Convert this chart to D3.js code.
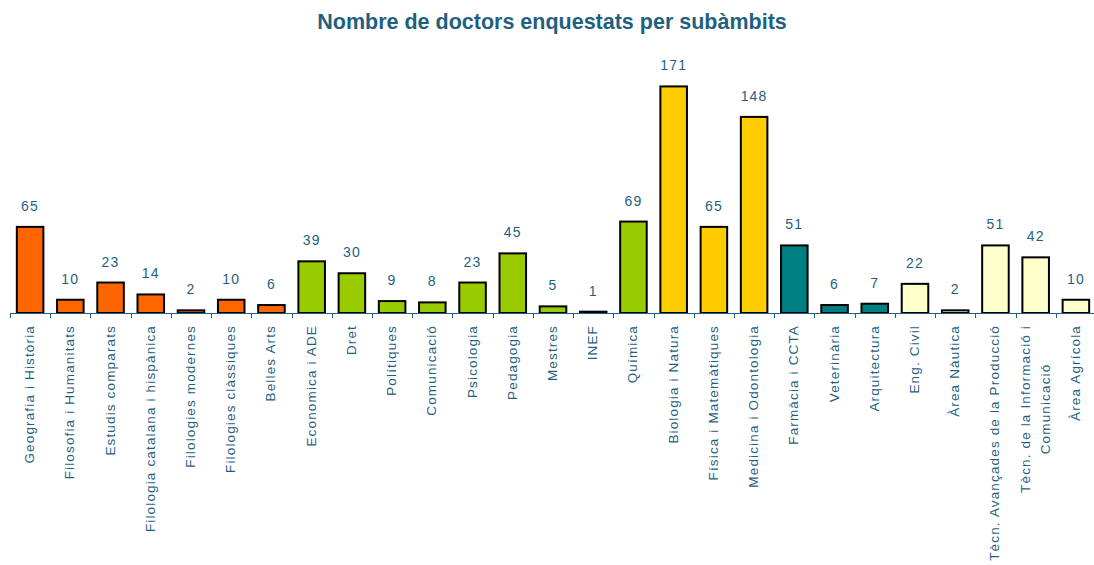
<!DOCTYPE html>
<html>
<head>
<meta charset="utf-8">
<script src="https://cdn.jsdelivr.net/npm/d3@7"></script>
<style>
  body { margin: 0; background: #fff; }
  svg { display: block; font-family: Arial, "Liberation Sans", sans-serif; }
</style>
</head>
<body>
<div id="chart"></div>
<script>
const width = 1094;
const height = 565;
const margin = { top: 48, right: -2, bottom: 252, left: 10 };

const categories = [
  "Geografia i Història", "Filosofia i Humanitats", "Estudis comparats",
  "Filologia catalana i hispànica", "Filologies modernes", "Filologies clàssiques",
  "Belles Arts", "Economica i ADE", "Dret", "Polítiques", "Comunicació",
  "Psicologia", "Pedagogia", "Mestres", "INEF", "Química", "Biologia i Natura",
  "Física i Matemàtiques", "Medicina i Odontologia", "Farmàcia i CCTA",
  "Veterinària", "Arquitectura", "Eng. Civil", "Àrea Nàutica",
  "Tècn. Avançades de la Producció", "Tècn. de la Informació i|Comunicació",
  "Àrea Agrícola"
];
const values = [65, 10, 23, 14, 2, 10, 6, 39, 30, 9, 8, 23, 45, 5, 1, 69, 171, 65, 148, 51, 6, 7, 22, 2, 51, 42, 10];
const areas = [
  "Humanitats", "Humanitats", "Humanitats", "Humanitats", "Humanitats", "Humanitats", "Humanitats",
  "Socials", "Socials", "Socials", "Socials", "Socials", "Socials", "Socials", "Socials", "Socials",
  "Ciències", "Ciències", "Ciències",
  "Salut", "Salut", "Salut",
  "Enginyeria", "Enginyeria", "Enginyeria", "Enginyeria", "Enginyeria"
];
const areaColors = {
  "Humanitats": "#FF6600",
  "Socials": "#99CC00",
  "Ciències": "#FFCC00",
  "Salut": "#008080",
  "Enginyeria": "#FFFFCC"
};

const textColor = "#1F5F80";

const svg = d3.select("#chart").append("svg")
  .attr("width", width)
  .attr("height", height);

svg.append("text")
  .attr("x", 552)
  .attr("y", 29)
  .attr("text-anchor", "middle")
  .attr("font-size", 21.5)
  .attr("font-weight", "bold")
  .attr("fill", textColor)
  .text("Nombre de doctors enquestats per subàmbits");

const x = d3.scaleBand()
  .domain(categories)
  .range([margin.left, width - margin.right])
  .paddingInner(0.34)
  .paddingOuter(0.17);

const y = d3.scaleLinear()
  .domain([0, 200])
  .range([height - margin.bottom, margin.top]);

const base = y(0);

// bars
svg.append("g")
  .selectAll("rect")
  .data(categories)
  .join("rect")
  .attr("x", (d) => x(d))
  .attr("y", (d, i) => y(values[i]))
  .attr("width", x.bandwidth())
  .attr("height", (d, i) => base - y(values[i]))
  .attr("fill", (d, i) => areaColors[areas[i]])
  .attr("stroke", "#000")
  .attr("stroke-width", 2);

// value labels
svg.append("g")
  .selectAll("text")
  .data(categories)
  .join("text")
  .attr("x", (d) => x(d) + x.bandwidth() / 2)
  .attr("y", (d, i) => y(values[i]) - 16)
  .attr("text-anchor", "middle")
  .attr("font-size", 14)
  .attr("letter-spacing", 1.2)
  .attr("fill", textColor)
  .text((d, i) => values[i]);

// axis line and ticks between categories
const axis = svg.append("g");
const step = x.step();
const start = x(categories[0]) - x.paddingOuter() * step;
axis.append("line")
  .attr("x1", start)
  .attr("x2", width)
  .attr("y1", base + 0.5)
  .attr("y2", base + 0.5)
  .attr("stroke", textColor)
  .attr("stroke-width", 1);
axis.selectAll("line.tick")
  .data(d3.range(categories.length + 1))
  .join("line")
  .attr("class", "tick")
  .attr("x1", (i) => Math.round(start + i * step) + 0.5)
  .attr("x2", (i) => Math.round(start + i * step) + 0.5)
  .attr("y1", base)
  .attr("y2", base + 5)
  .attr("stroke", textColor);

// category labels, rotated
const labels = axis.selectAll("text.cat")
  .data(categories)
  .join("text")
  .attr("class", "cat")
  .attr("transform", (d) => `translate(${x(d) + x.bandwidth() / 2},${base + 12}) rotate(-90)`)
  .attr("font-size", 13.5)
  .attr("letter-spacing", 1.15)
  .attr("fill", textColor);

labels.each(function (d) {
  const lines = d.split("|");
  const t = d3.select(this);
  const lh = 20;
  const spans = lines.map((l, k) =>
    t.append("tspan")
      .attr("y", (k - (lines.length - 1) / 2) * lh + 4)
      .text(l)
  );
  const longest = d3.max(spans, (s) => s.node().getComputedTextLength());
  spans.forEach((s) => s.attr("x", -longest / 2).attr("text-anchor", "middle"));
});
</script>
</body>
</html>
